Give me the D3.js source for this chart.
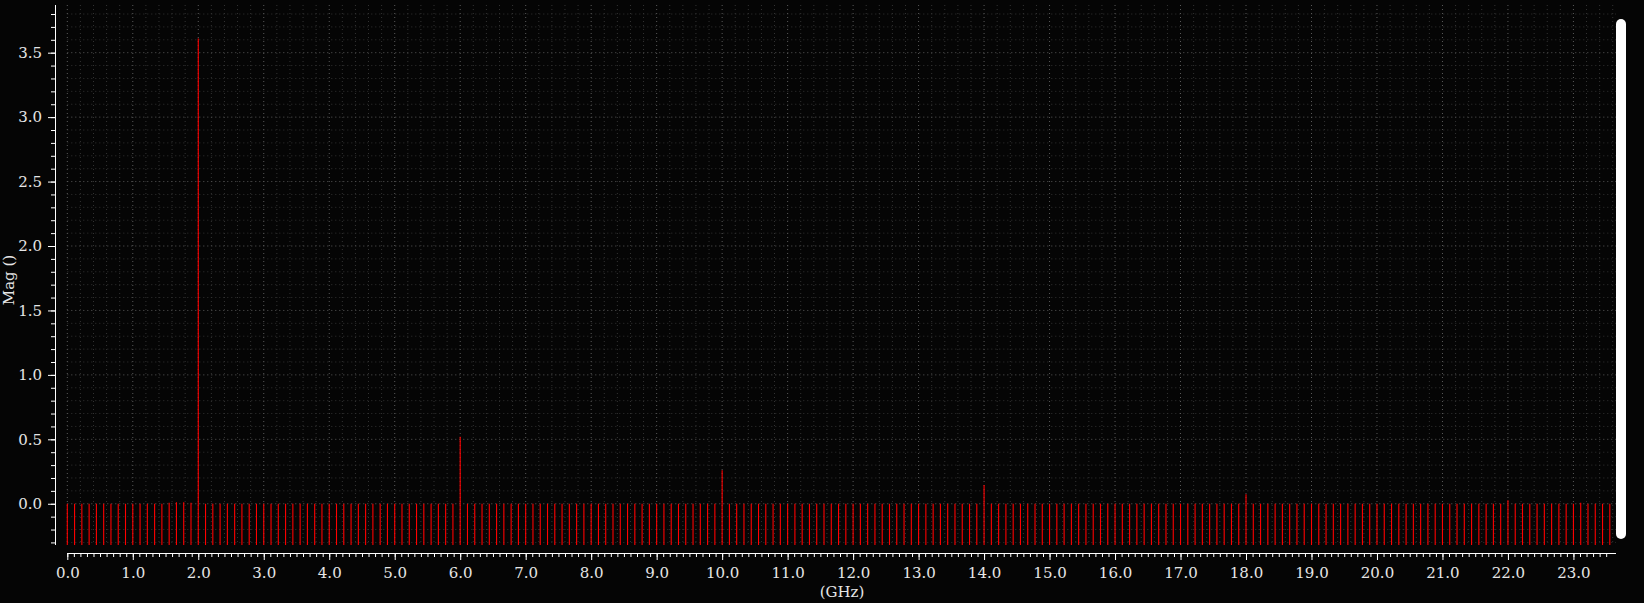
<!DOCTYPE html>
<html>
<head>
<meta charset="utf-8">
<script src="https://cdn.jsdelivr.net/npm/d3@7"></script>
<style>
  html, body { margin: 0; padding: 0; background: #050505; overflow: hidden; }
  text { font-family: "DejaVu Serif", serif; }
</style>
</head>
<body>
<div id="chart"></div>
<script>
// spectrum magnitude, one row per GHz (bins every 1/9 GHz)
const freqStep = 1 / 9;
const mags = [
  0, 0, 0, 0, 0, 0, 0, 0, 0,
  0, 0, 0, 0, 0, 0.008, 0.012, 0.012, 0.008,
  3.61, 0, 0, 0, 0, 0, 0, 0, 0,
  0, 0, 0, 0, 0, 0, 0, 0, 0,
  0, 0, 0, 0, 0, 0, 0, 0, 0,
  0, 0, 0, 0, 0, 0, 0, 0, 0,
  0.52, 0, 0, 0, 0, 0, 0, 0, 0,
  0, 0, 0, 0, 0, 0, 0, 0, 0,
  0, 0, 0, 0, 0, 0, 0, 0, 0,
  0, 0, 0, 0, 0, 0, 0, 0, 0,
  0.26, 0, 0, 0, 0, 0, 0, 0, 0,
  0, 0, 0, 0, 0, 0, 0, 0, 0,
  0, 0, 0, 0, 0, 0, 0, 0, 0,
  0, 0, 0, 0, 0, 0, 0, 0, 0,
  0.146, 0, 0, 0, 0, 0, 0, 0, 0,
  0, 0, 0, 0, 0, 0, 0, 0, 0,
  0, 0, 0, 0, 0, 0, 0, 0, 0,
  0, 0, 0, 0, 0, 0, 0, 0, 0,
  0.074, 0, 0, 0, 0, 0, 0, 0, 0,
  0, 0, 0, 0, 0, 0, 0, 0, 0,
  0, 0, 0, 0, 0, 0, 0, 0, 0,
  0, 0, 0, 0, 0, 0, 0, 0, 0,
  0.027, 0, 0, 0, 0, 0, 0, 0, 0,
  0, 0.008, 0, 0, 0, 0
];
const freqs = mags.map((m, i) => i * freqStep);

const xMajorTicks = d3.range(0, 24, 1);
const xMinorTicks = d3.range(0, 236, 1).map(d => d / 10);
const yMajorTicks = [0, 0.5, 1.0, 1.5, 2.0, 2.5, 3.0, 3.5];
const yMinorTicks = d3.range(-3, 39, 1).map(d => d / 10);
const xGridMinor = d3.range(0, 119, 1).map(d => d / 5);

const xLabel = "(GHz)";
const yLabel = "Mag ()";

const W = 1644, H = 603;
const plot = { left: 67.3, right: 1616, top: 5, bottom: 545 };

const svg = d3.select("#chart").append("svg")
  .attr("width", W)
  .attr("height", H)
  .style("background", "#050505");

const x = d3.scaleLinear().domain([0, 23.65]).range([plot.left, plot.right]);
const y = d3.scaleLinear().domain([-0.32, 3.87]).range([plot.bottom, plot.top]);

// grid
const grid = svg.append("g");
grid.selectAll("line.vmin").data(xGridMinor.filter(d => Math.abs(d - Math.round(d)) > 1e-6))
  .enter().append("line")
  .attr("x1", d => x(d)).attr("x2", d => x(d))
  .attr("y1", plot.top).attr("y2", plot.bottom)
  .attr("stroke", "#333").attr("stroke-dasharray", "1,3");
grid.selectAll("line.hmin").data(yMinorTicks.filter(d => Math.abs(d * 2 - Math.round(d * 2)) > 1e-6))
  .enter().append("line")
  .attr("x1", plot.left).attr("x2", plot.right)
  .attr("y1", d => y(d)).attr("y2", d => y(d))
  .attr("stroke", "#333").attr("stroke-dasharray", "1,3");
grid.selectAll("line.vmaj").data(xMajorTicks)
  .enter().append("line")
  .attr("x1", d => x(d)).attr("x2", d => x(d))
  .attr("y1", plot.top).attr("y2", plot.bottom)
  .attr("stroke", "#5a5a5a").attr("stroke-dasharray", "1,3");
grid.selectAll("line.hmaj").data(yMajorTicks)
  .enter().append("line")
  .attr("x1", plot.left).attr("x2", plot.right)
  .attr("y1", d => y(d)).attr("y2", d => y(d))
  .attr("stroke", "#5a5a5a").attr("stroke-dasharray", "1,3");

// stems
svg.append("g").selectAll("line")
  .data(mags)
  .enter().append("line")
  .attr("x1", (d, i) => x(freqs[i]))
  .attr("x2", (d, i) => x(freqs[i]))
  .attr("y1", y(-0.32))
  .attr("y2", d => y(d))
  .attr("stroke", "#ff0000")
  .attr("stroke-width", 1.1);

// x axis
const xAxisY = 553;
const xMinor = svg.append("g").attr("transform", `translate(0,${xAxisY})`)
  .call(d3.axisBottom(x).tickValues(xMinorTicks).tickSize(4).tickFormat(""));
const xMajor = svg.append("g").attr("transform", `translate(0,${xAxisY})`)
  .call(d3.axisBottom(x).tickValues(xMajorTicks).tickSize(7).tickSizeOuter(0)
    .tickFormat(d3.format(".1f")));
[xMinor, xMajor].forEach(a => {
  a.select(".domain").attr("stroke", "#fff").attr("d", `M${plot.left},0.5H${plot.right}`);
  a.selectAll("line").attr("stroke", "#fff");
});
xMajor.selectAll("text")
  .attr("fill", "#e6e6e6")
  .attr("font-size", "15px")
  .attr("font-family", "DejaVu Serif")
  .attr("dy", "0")
  .attr("y", 25);

// y axis
const yAxisX = 55;
const yMinor = svg.append("g").attr("transform", `translate(${yAxisX},0)`)
  .call(d3.axisLeft(y).tickValues(yMinorTicks).tickSize(4).tickFormat(""));
const yMajor = svg.append("g").attr("transform", `translate(${yAxisX},0)`)
  .call(d3.axisLeft(y).tickValues(yMajorTicks).tickSize(7).tickSizeOuter(0)
    .tickFormat(d3.format(".1f")));
[yMinor, yMajor].forEach(a => {
  a.select(".domain").attr("stroke", "#fff").attr("d", `M0.5,${plot.top}V${plot.bottom}`);
  a.selectAll("line").attr("stroke", "#fff");
});
yMajor.selectAll("text")
  .attr("fill", "#e6e6e6")
  .attr("font-size", "15px")
  .attr("font-family", "DejaVu Serif")
  .attr("x", -13);

// axis labels
svg.append("text")
  .attr("x", 842)
  .attr("y", 597)
  .attr("text-anchor", "middle")
  .attr("fill", "#e6e6e6")
  .style("font-size", "15px")
  .text(xLabel);

svg.append("text")
  .attr("transform", "translate(14,280) rotate(-90)")
  .attr("text-anchor", "middle")
  .attr("fill", "#e6e6e6")
  .style("font-size", "15px")
  .text(yLabel);

// scroll bar on the right
svg.append("rect")
  .attr("x", 1616)
  .attr("y", 19)
  .attr("width", 10)
  .attr("height", 520)
  .attr("rx", 5)
  .attr("fill", "#fff");
</script>
</body>
</html>
